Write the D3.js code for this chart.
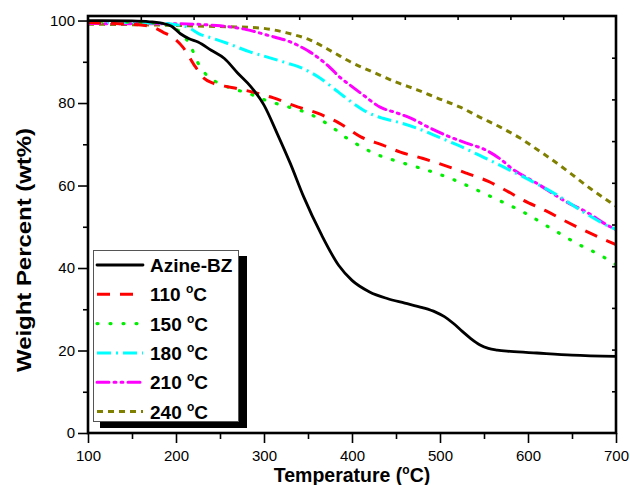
<!DOCTYPE html>
<html><head><meta charset="utf-8">
<script src="https://cdn.jsdelivr.net/npm/d3@7/dist/d3.min.js"></script>
<style>body{margin:0;background:#fff}svg{display:block}</style>
</head><body><svg id="c" width="630" height="485"></svg>
<script>
// ---- data ----
const tAzine = [100,150,170,185,195,205,215,225,240,255,270,285,300,315,330,345,365,385,400,420,440,460,480,495,505,515,525,535,545,555,565,580,610,650,700];
const wAzine = [100,99.9,99.7,99.3,98.6,96.8,95.6,94.8,92.8,90.8,87.3,84,79.5,72.6,65.3,57.3,48.2,40.6,37,34.2,32.6,31.5,30.4,29.3,28.2,26.6,24.7,22.9,21.4,20.5,20.1,19.8,19.4,18.9,18.6];
const t110 = [100,130,160,175,185,197,208,222,232,242,255,270,290,310,335,360,385,410,435,455,480,505,530,555,575,595,620,645,670,690,700];
const w110 = [99.5,99.3,98.9,98.3,97.2,95.8,93.5,88.8,86,84.8,84.1,83.5,82.5,81.3,79.3,77.6,75.2,71.8,69.8,68.1,66.6,64.9,63,61,58.8,56.4,53.9,51.1,48.5,46.6,45.7];
const t150 = [100,150,180,194,203,210,217,225,236,250,265,282,295,312,330,349,364,379,394,409,424,451,481,511,542,566,597,627,657,684,700];
const w150 = [99.8,99.6,99.3,98.7,97.5,96,93.6,89.7,86.5,84.7,83.4,82.4,81.2,80,78.9,77.6,76,73.9,71.5,69.6,67.9,65.9,64,61.8,58.9,56.5,53.3,49.5,45.8,42.9,40.8];
const t180 = [100,150,185,200,214,228,240,258,284,303,326,344,364,386,401,417,435,455,474,500,519,549,572,602,633,662,693,700];
const w180 = [99.6,99.5,99.3,99,98.3,96.6,95.8,94.5,92.4,91.2,89.7,88.4,86,82.4,80,77.8,76.3,75.2,73.9,71.6,69.9,66.9,64.5,61.3,57.7,53.7,50,49.4];
const t210 = [100,150,200,246,280,303,330,352,375,386,398,413,432,451,466,489,511,530,553,568,583,608,644,667,690,700];
const w210 = [99.3,99.2,99.2,98.8,97.8,96.5,94.8,92.4,88.6,86.3,84.3,81.9,79,77.6,76.4,73.9,71.8,70.3,68.5,66.5,63.9,60.8,56,53.5,50.4,49.3];
const t240 = [100,150,182,220,258,295,326,352,378,398,424,451,474,497,523,545,568,591,614,625,648,670,693,700];
const w240 = [99.1,99,98.9,98.7,98.5,98.2,97,95.3,92.4,90,87.5,85,83.2,81.2,79,76.6,74.2,71.5,68.2,66.6,63,59.4,56,55];
const seriesLabels = ["Azine-BZ","110","150","180","210","240"];
const xTickValues = [100,200,300,400,500,600,700];
const yTickValues = [0,20,40,60,80,100];

// ---- styles ----
const colors = ["#000000","#ff0000","#00ee00","#00ffff","#ff00ff","#808000"];
const dashes = [null,"13,10","1,12","14,5,2,5","12,5,2,5,2,5","6,5"];
const widths = [2.8,3,3.2,3,3,3];
const caps = ["round","butt","round","butt","round","butt"];

const series = [
  [tAzine,wAzine],[t110,w110],[t150,w150],[t180,w180],[t210,w210],[t240,w240]
].map((s,i)=>({label:seriesLabels[i], pts:s[0].map((t,j)=>[t,s[1][j]])}));

const svg = d3.select("#c");
const L=88, R=616, T=16, B=433;
const x = d3.scaleLinear().domain([100,700]).range([L,R]);
const y = d3.scaleLinear().domain([0,101.1]).range([B,T]);
const FONT = "Liberation Sans, Arial, sans-serif";

// lines
const line = d3.line().x(d=>x(d[0])).y(d=>y(d[1])).curve(d3.curveMonotoneX);
svg.append("defs").append("clipPath").attr("id","clip").append("rect")
  .attr("x",L).attr("y",T).attr("width",R-L).attr("height",B-T);
const g = svg.append("g").attr("clip-path","url(#clip)");
series.slice().reverse().forEach((s,ri)=>{
  const i = series.length-1-ri;
  g.append("path").attr("d",line(s.pts)).attr("fill","none")
   .attr("stroke",colors[i]).attr("stroke-width",widths[i])
   .attr("stroke-dasharray",dashes[i]).attr("stroke-linecap",caps[i]);
});

// axes
function styleAxis(sel){
  sel.select(".domain").remove();
  sel.selectAll("line").attr("stroke","#000").attr("stroke-width",1.6);
  sel.selectAll("text").attr("font-family",FONT).attr("font-size",15).attr("fill","#000");
}
const gxMinor = svg.append("g").attr("transform",`translate(0,${B})`)
  .call(d3.axisBottom(x).tickValues(d3.range(150,700,100)).tickSize(6).tickFormat(""));
styleAxis(gxMinor);
const gx = svg.append("g").attr("transform",`translate(0,${B})`)
  .call(d3.axisBottom(x).tickValues(xTickValues).tickSize(10).tickPadding(7).tickFormat(d3.format("d")));
styleAxis(gx);
const gyMinor = svg.append("g").attr("transform",`translate(${L},0)`)
  .call(d3.axisLeft(y).tickValues([10,30,50,70,90]).tickSize(5).tickFormat(""));
styleAxis(gyMinor);
const gy = svg.append("g").attr("transform",`translate(${L},0)`)
  .call(d3.axisLeft(y).tickValues(yTickValues).tickSize(10).tickPadding(3).tickFormat(d3.format("d")));
styleAxis(gy);
const xTop = d3.scaleLinear().domain([0,10]).range([R,L]);
const gt = svg.append("g").attr("transform",`translate(0,${T})`)
  .call(d3.axisTop(xTop).tickValues(d3.range(1,10)).tickSize(-4).tickFormat(""));
styleAxis(gt);
const yRight = d3.scaleLinear().domain([0,10]).range([T,B]);
const gr = svg.append("g").attr("transform",`translate(${R},0)`)
  .call(d3.axisRight(yRight).tickValues(d3.range(1,10)).tickSize(-4).tickFormat(""));
styleAxis(gr);
svg.append("rect").attr("x",L).attr("y",T).attr("width",R-L).attr("height",B-T)
  .attr("fill","none").attr("stroke","#000").attr("stroke-width",2.6);

// axis titles
const xt = svg.append("text").attr("x",(L+R)/2).attr("y",482).attr("text-anchor","middle")
  .attr("font-family",FONT).attr("font-weight","bold").attr("font-size",19.5);
xt.append("tspan").text("Temperature (");
xt.append("tspan").text("o").attr("font-size",12).attr("dy",-8);
xt.append("tspan").text("C)").attr("dy",8);
svg.append("text").attr("transform",`translate(31,250) rotate(-90)`)
  .attr("text-anchor","middle").attr("font-family",FONT).attr("font-weight","bold")
  .attr("font-size",19.5).attr("textLength",244).attr("lengthAdjust","spacingAndGlyphs")
  .text("Weight Percent (wt%)");

// legend
const lg = svg.append("g");
lg.append("rect").attr("x",100).attr("y",256).attr("width",147).attr("height",172).attr("fill","#000");
lg.append("rect").attr("x",93.5).attr("y",250.5).attr("width",145).attr("height",171)
  .attr("fill","#fff").attr("stroke","#555").attr("stroke-width",1);
series.forEach((s,i)=>{
  const yy = 265 + i*29.3;
  lg.append("line").attr("x1",97).attr("x2",143).attr("y1",yy).attr("y2",yy)
    .attr("stroke",colors[i]).attr("stroke-width",widths[i])
    .attr("stroke-dasharray",dashes[i]).attr("stroke-linecap",caps[i]);
  const tx = lg.append("text").attr("x",150).attr("y",yy+7).attr("font-family",FONT)
    .attr("font-weight","bold").attr("font-size",19).attr("fill","#000");
  if(i===0){ tx.text(s.label); }
  else {
    tx.append("tspan").text(s.label+" ");
    tx.append("tspan").text("o").attr("font-size",12).attr("dy",-8);
    tx.append("tspan").text("C").attr("dy",8);
  }
});
</script></body></html>
